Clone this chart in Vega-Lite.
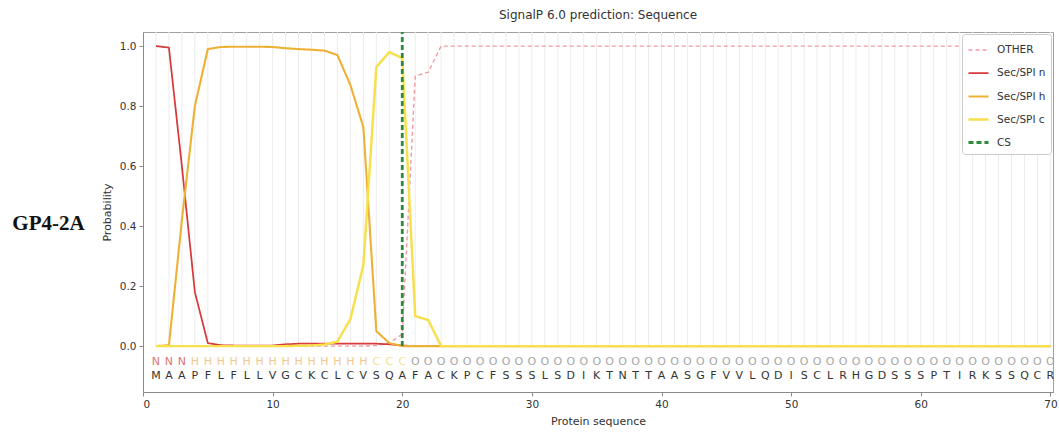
{
  "$schema": "https://vega.github.io/schema/vega-lite/v6.json",
  "width": 910,
  "height": 360,
  "autosize": {"type": "none"},
  "padding": {"left": 143, "top": 32, "right": 6, "bottom": 44},
  "background": "white",
  "title": {"text": "SignalP 6.0 prediction: Sequence", "fontSize": 12, "fontWeight": "normal", "color": "#333333", "font": "DejaVu Sans", "offset": 9, "anchor": "middle"},
  "config": {
    "font": "DejaVu Sans",
    "view": {"stroke": "#a0a0a0", "strokeWidth": 1},
    "axis": {"labelFont": "DejaVu Sans", "titleFont": "DejaVu Sans", "labelFontSize": 10.5, "titleFontSize": 11, "labelColor": "#333333", "titleColor": "#333333", "titleFontWeight": "normal", "domainColor": "#8a8a8a", "tickColor": "#8a8a8a", "tickSize": 4, "grid": false},
    "legend": {"labelFont": "DejaVu Sans"}
  },
  "datasets": {
    "seq": [
      {"pos": 1, "aa": "M", "lab": "N", "OTHER": 0, "Sec/SPI n": 1.0, "Sec/SPI h": 0, "Sec/SPI c": 0},
      {"pos": 2, "aa": "A", "lab": "N", "OTHER": 0, "Sec/SPI n": 0.995, "Sec/SPI h": 0.003, "Sec/SPI c": 0},
      {"pos": 3, "aa": "A", "lab": "N", "OTHER": 0, "Sec/SPI n": 0.6, "Sec/SPI h": 0.42, "Sec/SPI c": 0},
      {"pos": 4, "aa": "P", "lab": "H", "OTHER": 0, "Sec/SPI n": 0.18, "Sec/SPI h": 0.8, "Sec/SPI c": 0},
      {"pos": 5, "aa": "F", "lab": "H", "OTHER": 0, "Sec/SPI n": 0.01, "Sec/SPI h": 0.99, "Sec/SPI c": 0},
      {"pos": 6, "aa": "L", "lab": "H", "OTHER": 0, "Sec/SPI n": 0.003, "Sec/SPI h": 0.997, "Sec/SPI c": 0},
      {"pos": 7, "aa": "F", "lab": "H", "OTHER": 0, "Sec/SPI n": 0.002, "Sec/SPI h": 0.998, "Sec/SPI c": 0},
      {"pos": 8, "aa": "L", "lab": "H", "OTHER": 0, "Sec/SPI n": 0.002, "Sec/SPI h": 0.998, "Sec/SPI c": 0},
      {"pos": 9, "aa": "L", "lab": "H", "OTHER": 0, "Sec/SPI n": 0.002, "Sec/SPI h": 0.998, "Sec/SPI c": 0},
      {"pos": 10, "aa": "V", "lab": "H", "OTHER": 0, "Sec/SPI n": 0.002, "Sec/SPI h": 0.997, "Sec/SPI c": 0},
      {"pos": 11, "aa": "G", "lab": "H", "OTHER": 0, "Sec/SPI n": 0.006, "Sec/SPI h": 0.993, "Sec/SPI c": 0},
      {"pos": 12, "aa": "C", "lab": "H", "OTHER": 0, "Sec/SPI n": 0.008, "Sec/SPI h": 0.99, "Sec/SPI c": 0.001},
      {"pos": 13, "aa": "K", "lab": "H", "OTHER": 0, "Sec/SPI n": 0.008, "Sec/SPI h": 0.988, "Sec/SPI c": 0.002},
      {"pos": 14, "aa": "C", "lab": "H", "OTHER": 0, "Sec/SPI n": 0.008, "Sec/SPI h": 0.985, "Sec/SPI c": 0.005},
      {"pos": 15, "aa": "L", "lab": "H", "OTHER": 0, "Sec/SPI n": 0.008, "Sec/SPI h": 0.97, "Sec/SPI c": 0.015},
      {"pos": 16, "aa": "C", "lab": "H", "OTHER": 0, "Sec/SPI n": 0.008, "Sec/SPI h": 0.87, "Sec/SPI c": 0.09},
      {"pos": 17, "aa": "V", "lab": "H", "OTHER": 0, "Sec/SPI n": 0.008, "Sec/SPI h": 0.73, "Sec/SPI c": 0.27},
      {"pos": 18, "aa": "S", "lab": "C", "OTHER": 0.002, "Sec/SPI n": 0.008, "Sec/SPI h": 0.05, "Sec/SPI c": 0.93},
      {"pos": 19, "aa": "Q", "lab": "C", "OTHER": 0.01, "Sec/SPI n": 0.006, "Sec/SPI h": 0.01, "Sec/SPI c": 0.98},
      {"pos": 20, "aa": "A", "lab": "C", "OTHER": 0.04, "Sec/SPI n": 0.002, "Sec/SPI h": 0, "Sec/SPI c": 0.96},
      {"pos": 21, "aa": "F", "lab": "O", "OTHER": 0.9, "Sec/SPI n": 0, "Sec/SPI h": 0, "Sec/SPI c": 0.1},
      {"pos": 22, "aa": "A", "lab": "O", "OTHER": 0.913, "Sec/SPI n": 0, "Sec/SPI h": 0, "Sec/SPI c": 0.087},
      {"pos": 23, "aa": "C", "lab": "O", "OTHER": 1.0, "Sec/SPI n": 0, "Sec/SPI h": 0, "Sec/SPI c": 0},
      {"pos": 24, "aa": "K", "lab": "O", "OTHER": 1.0, "Sec/SPI n": 0, "Sec/SPI h": 0, "Sec/SPI c": 0},
      {"pos": 25, "aa": "P", "lab": "O", "OTHER": 1.0, "Sec/SPI n": 0, "Sec/SPI h": 0, "Sec/SPI c": 0},
      {"pos": 26, "aa": "C", "lab": "O", "OTHER": 1.0, "Sec/SPI n": 0, "Sec/SPI h": 0, "Sec/SPI c": 0},
      {"pos": 27, "aa": "F", "lab": "O", "OTHER": 1.0, "Sec/SPI n": 0, "Sec/SPI h": 0, "Sec/SPI c": 0},
      {"pos": 28, "aa": "S", "lab": "O", "OTHER": 1.0, "Sec/SPI n": 0, "Sec/SPI h": 0, "Sec/SPI c": 0},
      {"pos": 29, "aa": "S", "lab": "O", "OTHER": 1.0, "Sec/SPI n": 0, "Sec/SPI h": 0, "Sec/SPI c": 0},
      {"pos": 30, "aa": "S", "lab": "O", "OTHER": 1.0, "Sec/SPI n": 0, "Sec/SPI h": 0, "Sec/SPI c": 0},
      {"pos": 31, "aa": "L", "lab": "O", "OTHER": 1.0, "Sec/SPI n": 0, "Sec/SPI h": 0, "Sec/SPI c": 0},
      {"pos": 32, "aa": "S", "lab": "O", "OTHER": 1.0, "Sec/SPI n": 0, "Sec/SPI h": 0, "Sec/SPI c": 0},
      {"pos": 33, "aa": "D", "lab": "O", "OTHER": 1.0, "Sec/SPI n": 0, "Sec/SPI h": 0, "Sec/SPI c": 0},
      {"pos": 34, "aa": "I", "lab": "O", "OTHER": 1.0, "Sec/SPI n": 0, "Sec/SPI h": 0, "Sec/SPI c": 0},
      {"pos": 35, "aa": "K", "lab": "O", "OTHER": 1.0, "Sec/SPI n": 0, "Sec/SPI h": 0, "Sec/SPI c": 0},
      {"pos": 36, "aa": "T", "lab": "O", "OTHER": 1.0, "Sec/SPI n": 0, "Sec/SPI h": 0, "Sec/SPI c": 0},
      {"pos": 37, "aa": "N", "lab": "O", "OTHER": 1.0, "Sec/SPI n": 0, "Sec/SPI h": 0, "Sec/SPI c": 0},
      {"pos": 38, "aa": "T", "lab": "O", "OTHER": 1.0, "Sec/SPI n": 0, "Sec/SPI h": 0, "Sec/SPI c": 0},
      {"pos": 39, "aa": "T", "lab": "O", "OTHER": 1.0, "Sec/SPI n": 0, "Sec/SPI h": 0, "Sec/SPI c": 0},
      {"pos": 40, "aa": "A", "lab": "O", "OTHER": 1.0, "Sec/SPI n": 0, "Sec/SPI h": 0, "Sec/SPI c": 0},
      {"pos": 41, "aa": "A", "lab": "O", "OTHER": 1.0, "Sec/SPI n": 0, "Sec/SPI h": 0, "Sec/SPI c": 0},
      {"pos": 42, "aa": "S", "lab": "O", "OTHER": 1.0, "Sec/SPI n": 0, "Sec/SPI h": 0, "Sec/SPI c": 0},
      {"pos": 43, "aa": "G", "lab": "O", "OTHER": 1.0, "Sec/SPI n": 0, "Sec/SPI h": 0, "Sec/SPI c": 0},
      {"pos": 44, "aa": "F", "lab": "O", "OTHER": 1.0, "Sec/SPI n": 0, "Sec/SPI h": 0, "Sec/SPI c": 0},
      {"pos": 45, "aa": "V", "lab": "O", "OTHER": 1.0, "Sec/SPI n": 0, "Sec/SPI h": 0, "Sec/SPI c": 0},
      {"pos": 46, "aa": "V", "lab": "O", "OTHER": 1.0, "Sec/SPI n": 0, "Sec/SPI h": 0, "Sec/SPI c": 0},
      {"pos": 47, "aa": "L", "lab": "O", "OTHER": 1.0, "Sec/SPI n": 0, "Sec/SPI h": 0, "Sec/SPI c": 0},
      {"pos": 48, "aa": "Q", "lab": "O", "OTHER": 1.0, "Sec/SPI n": 0, "Sec/SPI h": 0, "Sec/SPI c": 0},
      {"pos": 49, "aa": "D", "lab": "O", "OTHER": 1.0, "Sec/SPI n": 0, "Sec/SPI h": 0, "Sec/SPI c": 0},
      {"pos": 50, "aa": "I", "lab": "O", "OTHER": 1.0, "Sec/SPI n": 0, "Sec/SPI h": 0, "Sec/SPI c": 0},
      {"pos": 51, "aa": "S", "lab": "O", "OTHER": 1.0, "Sec/SPI n": 0, "Sec/SPI h": 0, "Sec/SPI c": 0},
      {"pos": 52, "aa": "C", "lab": "O", "OTHER": 1.0, "Sec/SPI n": 0, "Sec/SPI h": 0, "Sec/SPI c": 0},
      {"pos": 53, "aa": "L", "lab": "O", "OTHER": 1.0, "Sec/SPI n": 0, "Sec/SPI h": 0, "Sec/SPI c": 0},
      {"pos": 54, "aa": "R", "lab": "O", "OTHER": 1.0, "Sec/SPI n": 0, "Sec/SPI h": 0, "Sec/SPI c": 0},
      {"pos": 55, "aa": "H", "lab": "O", "OTHER": 1.0, "Sec/SPI n": 0, "Sec/SPI h": 0, "Sec/SPI c": 0},
      {"pos": 56, "aa": "G", "lab": "O", "OTHER": 1.0, "Sec/SPI n": 0, "Sec/SPI h": 0, "Sec/SPI c": 0},
      {"pos": 57, "aa": "D", "lab": "O", "OTHER": 1.0, "Sec/SPI n": 0, "Sec/SPI h": 0, "Sec/SPI c": 0},
      {"pos": 58, "aa": "S", "lab": "O", "OTHER": 1.0, "Sec/SPI n": 0, "Sec/SPI h": 0, "Sec/SPI c": 0},
      {"pos": 59, "aa": "S", "lab": "O", "OTHER": 1.0, "Sec/SPI n": 0, "Sec/SPI h": 0, "Sec/SPI c": 0},
      {"pos": 60, "aa": "S", "lab": "O", "OTHER": 1.0, "Sec/SPI n": 0, "Sec/SPI h": 0, "Sec/SPI c": 0},
      {"pos": 61, "aa": "P", "lab": "O", "OTHER": 1.0, "Sec/SPI n": 0, "Sec/SPI h": 0, "Sec/SPI c": 0},
      {"pos": 62, "aa": "T", "lab": "O", "OTHER": 1.0, "Sec/SPI n": 0, "Sec/SPI h": 0, "Sec/SPI c": 0},
      {"pos": 63, "aa": "I", "lab": "O", "OTHER": 1.0, "Sec/SPI n": 0, "Sec/SPI h": 0, "Sec/SPI c": 0},
      {"pos": 64, "aa": "R", "lab": "O", "OTHER": 1.0, "Sec/SPI n": 0, "Sec/SPI h": 0, "Sec/SPI c": 0},
      {"pos": 65, "aa": "K", "lab": "O", "OTHER": 1.0, "Sec/SPI n": 0, "Sec/SPI h": 0, "Sec/SPI c": 0},
      {"pos": 66, "aa": "S", "lab": "O", "OTHER": 1.0, "Sec/SPI n": 0, "Sec/SPI h": 0, "Sec/SPI c": 0},
      {"pos": 67, "aa": "S", "lab": "O", "OTHER": 1.0, "Sec/SPI n": 0, "Sec/SPI h": 0, "Sec/SPI c": 0},
      {"pos": 68, "aa": "Q", "lab": "O", "OTHER": 1.0, "Sec/SPI n": 0, "Sec/SPI h": 0, "Sec/SPI c": 0},
      {"pos": 69, "aa": "C", "lab": "O", "OTHER": 1.0, "Sec/SPI n": 0, "Sec/SPI h": 0, "Sec/SPI c": 0},
      {"pos": 70, "aa": "R", "lab": "O", "OTHER": 1.0, "Sec/SPI n": 0, "Sec/SPI h": 0, "Sec/SPI c": 0}
    ],
    "cs": [{"series": "CS", "pos": 20}],
    "panel": [{"name": "GP4-2A"}]
  },
  "layer": [
    {
      "data": {"name": "seq"},
      "mark": {"type": "rule", "color": "#ececec", "strokeWidth": 1},
      "encoding": {
        "x": {"field": "pos", "type": "quantitative", "scale": {"domain": [0, 70.2], "nice": false, "zero": false}},
        "y": {"datum": 0, "type": "quantitative", "scale": {"domain": [-0.153, 1.047], "nice": false, "zero": false}},
        "y2": {"datum": 1.047}
      }
    },
    {
      "data": {"name": "seq"},
      "transform": [{"fold": ["OTHER", "Sec/SPI n", "Sec/SPI h", "Sec/SPI c"], "as": ["series", "prob"]}],
      "mark": {"type": "line", "strokeCap": "butt", "strokeJoin": "round"},
      "encoding": {
        "x": {"field": "pos", "type": "quantitative", "title": "Protein sequence", "scale": {"domain": [0, 70.2], "nice": false, "zero": false}, "axis": {"values": [0, 10, 20, 30, 40, 50, 60, 70], "labelPadding": 3, "titlePadding": 6}},
        "y": {"field": "prob", "type": "quantitative", "title": "Probability", "scale": {"domain": [-0.153, 1.047], "nice": false, "zero": false}, "axis": {"values": [0, 0.2, 0.4, 0.6, 0.8, 1.0], "format": ".1f", "labelPadding": 3, "titlePadding": 7}},
        "color": {"field": "series", "type": "ordinal", "title": null, "scale": {"domain": ["OTHER", "Sec/SPI n", "Sec/SPI h", "Sec/SPI c", "CS"], "range": ["#f29aa2", "#d63a3a", "#efb135", "#f6e04c", "#2e8b3c"]}, "legend": {"orient": "top-right", "offset": 2, "symbolType": "stroke", "symbolSize": 400, "labelFontSize": 10.5, "labelColor": "#333333", "rowPadding": 6, "padding": 5, "fillColor": "white", "strokeColor": "#cccccc", "cornerRadius": 3, "labelOffset": 7}},
        "strokeDash": {"field": "series", "type": "ordinal", "title": null, "scale": {"domain": ["OTHER", "Sec/SPI n", "Sec/SPI h", "Sec/SPI c", "CS"], "range": [[4, 3], [1, 0], [1, 0], [1, 0], [5, 3]]}},
        "strokeWidth": {"field": "series", "type": "ordinal", "title": null, "scale": {"domain": ["OTHER", "Sec/SPI n", "Sec/SPI h", "Sec/SPI c", "CS"], "range": [1.4, 2.8, 2.3, 1.8, 2]}}
      }
    },
    {
      "data": {"name": "cs"},
      "mark": {"type": "rule"},
      "encoding": {
        "x": {"field": "pos", "type": "quantitative"},
        "y": {"datum": 0, "type": "quantitative"},
        "y2": {"datum": 1.047},
        "color": {"field": "series", "type": "ordinal", "title": null},
        "strokeDash": {"field": "series", "type": "ordinal", "title": null},
        "strokeWidth": {"field": "series", "type": "ordinal", "title": null}
      }
    },
    {
      "data": {"name": "seq"},
      "mark": {"type": "text", "fontSize": 11, "font": "DejaVu Sans", "baseline": "middle", "align": "center"},
      "encoding": {
        "x": {"field": "pos", "type": "quantitative"},
        "y": {"datum": -0.052, "type": "quantitative"},
        "text": {"field": "lab"},
        "color": {"condition": [{"test": "datum.lab === 'N'", "value": "#e07474"}, {"test": "datum.lab === 'H'", "value": "#f3c88e"}, {"test": "datum.lab === 'C'", "value": "#efdf96"}], "value": "#a6a6a6"}
      }
    },
    {
      "data": {"name": "seq"},
      "mark": {"type": "text", "fontSize": 11, "font": "DejaVu Sans", "baseline": "middle", "align": "center", "color": "#333333"},
      "encoding": {
        "x": {"field": "pos", "type": "quantitative"},
        "y": {"datum": -0.1, "type": "quantitative"},
        "text": {"field": "aa"}
      }
    },
    {
      "data": {"name": "panel"},
      "mark": {"type": "text", "font": "Liberation Serif", "fontWeight": "bold", "fontSize": 21, "color": "#111111", "align": "center", "baseline": "middle"},
      "encoding": {
        "x": {"datum": -7.29, "type": "quantitative"},
        "y": {"datum": 0.407, "type": "quantitative"},
        "text": {"field": "name"}
      }
    }
  ]
}
